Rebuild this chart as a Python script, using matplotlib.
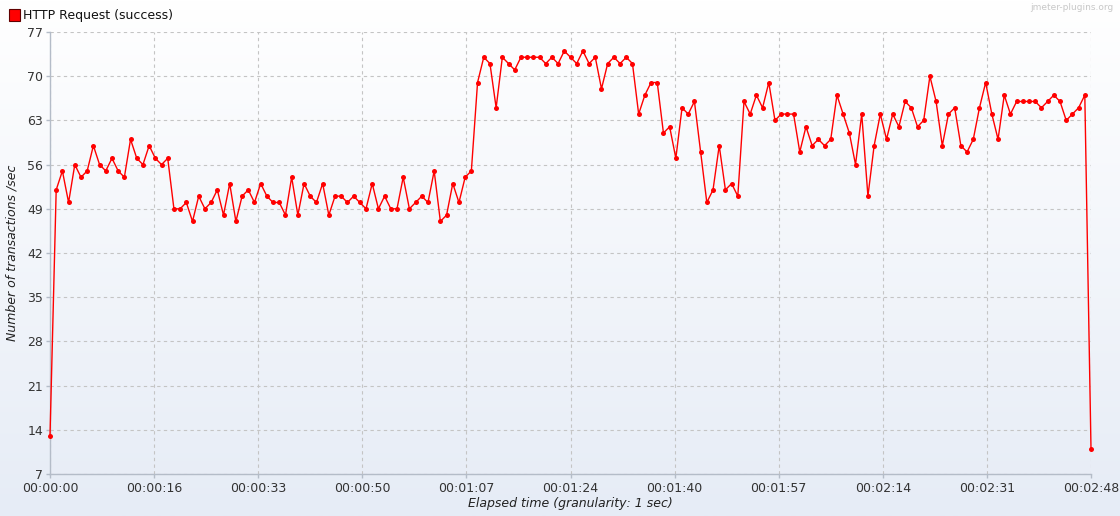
import numpy as np
import matplotlib
matplotlib.use("Agg")
import matplotlib.pyplot as plt
from matplotlib.patches import Rectangle

# ---- data ----
values = [13, 52, 55, 50, 56, 54, 55, 59, 56, 55, 57, 55, 54, 60, 57, 56, 59, 57, 56, 57,
          49, 49, 50, 47, 51, 49, 50, 52, 48, 53, 47, 51, 52, 50, 53, 51, 50, 50, 48, 54,
          48, 53, 51, 50, 53, 48, 51, 51, 50, 51, 50, 49, 53, 49, 51, 49, 49, 54, 49, 50,
          51, 50, 55, 47, 48, 53, 50, 54, 55, 69, 73, 72, 65, 73, 72, 71, 73, 73, 73, 73,
          72, 73, 72, 74, 73, 72, 74, 72, 73, 68, 72, 73, 72, 73, 72, 64, 67, 69, 69, 61,
          62, 57, 65, 64, 66, 58, 50, 52, 59, 52, 53, 51, 66, 64, 67, 65, 69, 63, 64, 64,
          64, 58, 62, 59, 60, 59, 60, 67, 64, 61, 56, 64, 51, 59, 64, 60, 64, 62, 66, 65,
          62, 63, 70, 66, 59, 64, 65, 59, 58, 60, 65, 69, 64, 60, 67, 64, 66, 66, 66, 66,
          65, 66, 67, 66, 63, 64, 65, 67, 11]
seconds = list(range(len(values)))
y_ticks = [7, 14, 21, 28, 35, 42, 49, 56, 63, 70, 77]
x_tick_pos = [i * 16.8 for i in range(11)]
x_tick_labels = ["00:00:00", "00:00:16", "00:00:33", "00:00:50", "00:01:07", "00:01:24",
                 "00:01:40", "00:01:57", "00:02:14", "00:02:31", "00:02:48"]
series_name = "HTTP Request (success)"

W, H = 1120, 516
fig = plt.figure(figsize=(W / 100, H / 100), dpi=100)

# background gradient over whole figure
bg = fig.add_axes([0, 0, 1, 1], zorder=-10)
grad = np.linspace(0, 1, 256).reshape(-1, 1)
top = np.array([1.0, 1.0, 1.0])
bot = np.array([230, 236, 246]) / 255.0
img = top[None, None, :] * (1 - grad[..., None]) + bot[None, None, :] * grad[..., None]
bg.imshow(img, aspect="auto", extent=[0, 1, 0, 1], origin="upper")
bg.set_axis_off()

left, right, top_px, bottom_px = 50, 1091, 32, 474
ax = fig.add_axes([left / W, 1 - bottom_px / H, (right - left) / W, (bottom_px - top_px) / H])
ax.patch.set_alpha(0)

ax.plot(seconds, values, color="#FF0000", lw=1.0, marker="o", markersize=3.6,
        markeredgewidth=0, markerfacecolor="#FF0000", zorder=5, clip_on=False)

ax.set_xlim(0, 168)
ax.set_ylim(7, 77)
ax.set_yticks(y_ticks)
ax.set_yticklabels([str(v) for v in y_ticks])
ax.set_xticks(x_tick_pos)
ax.set_xticklabels(x_tick_labels)

ax.grid(True, color="#C4C4C4", linestyle=(0, (3, 3)), linewidth=0.8)
ax.set_axisbelow(True)
for s in ["top", "right"]:
    ax.spines[s].set_visible(False)
for s in ["left", "bottom"]:
    ax.spines[s].set_color("#B4BCC8")
    ax.spines[s].set_linewidth(1.0)

ax.tick_params(axis="both", colors="#B4BCC8", labelcolor="#333333", labelsize=9,
               length=3, width=1, direction="out")
ax.tick_params(axis="y", pad=2)
ax.tick_params(axis="x", pad=3)

ax.set_xlabel("Elapsed time (granularity: 1 sec)", fontsize=9, style="italic",
              color="#222222", labelpad=1)
ax.set_ylabel("Number of transactions /sec", fontsize=9, style="italic",
              color="#222222", labelpad=6)

# legend
fig.patches.append(Rectangle((9 / W, 1 - 21 / H), 11 / W, 12 / H, transform=fig.transFigure,
                             facecolor="#FF0000", edgecolor="#600000", linewidth=0.8))
fig.text(23 / W, 1 - 15 / H, series_name, fontsize=9, va="center", ha="left", color="#111111")
fig.text(1113 / W, 1 - 7 / H, "jmeter-plugins.org", fontsize=6.5, va="center", ha="right",
         color="#C8C8C8")

fig.savefig("out.png", dpi=100)
